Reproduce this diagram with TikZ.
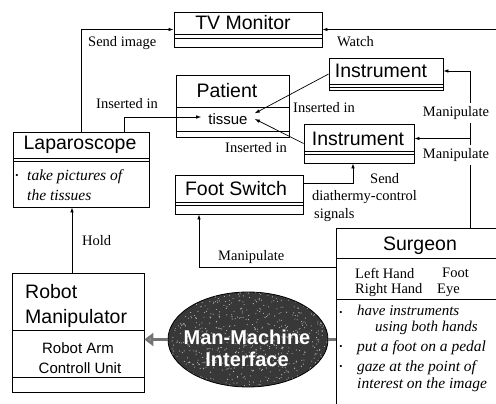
\documentclass[tikz,border=0pt]{standalone}
\usepackage{fontspec}
\setmainfont{Liberation Serif}
\newfontfamily\sansf{Liberation Sans}
\usetikzlibrary{shapes.geometric,arrows.meta,fit}
\begin{document}
\begin{tikzpicture}[x=1pt,y=-1pt,
  cls/.style={draw, line width=0.8pt, inner sep=0pt, fill=white},
  nm/.style={font=\sansf\fontsize{19.5}{20}\selectfont, inner sep=0pt},
  sm/.style={font=\sansf\fontsize{15}{16}\selectfont, inner sep=0pt},
  lbl/.style={font=\fontsize{14.5}{15}\selectfont, inner sep=0pt},
  itx/.style={font=\itshape\fontsize{15.5}{16}\selectfont, inner sep=0pt, anchor=west},
  conn/.style={line width=0.7pt, -{Latex[length=5pt,width=3.5pt]}},
  dv/.style={line width=0.6pt},
  fat/.style={line width=3pt, draw=black!55, -{Triangle[length=9pt,width=13pt,fill=black!45]}}]
\useasboundingbox (0,0) rectangle (496,404);

% ---- class boxes ----
\node[cls, fit={(174,12) (322,47)}] (tv) {};
\draw[dv] (174,34) -- (322,34); \draw[dv] (174,38.5) -- (322,38.5);
\node[nm] (tvt) at (243,23) {TV Monitor};

\node[cls, fit={(176,75) (289,137)}] (pat) {};
\draw[dv] (176,107) -- (289,107); \draw[dv] (176,131) -- (289,131);
\node[nm] (patt) at (227,91) {Patient};
\node[sm, inner xsep=7pt] (tissue) at (228,119) {tissue};

\node[cls, fit={(329,58) (443,90)}] (inst1) {};
\draw[dv] (329,84) -- (443,84); \draw[dv] (329,87) -- (443,87);
\node[nm] (inst1t) at (381,71) {Instrument};

\node[cls, fit={(304,124) (414,163)}] (inst2) {};
\draw[dv] (304,151) -- (414,151); \draw[dv] (304,154) -- (414,154);
\node[nm] (inst2t) at (358,139) {Instrument};

\node[cls, fit={(13,132) (149,207)}] (lap) {};
\draw[dv] (13,158) -- (149,158); \draw[dv] (13,161) -- (149,161);
\node[nm] (lapt) at (80,145) {Laparoscope};
\node[font=\fontsize{9}{9}\selectfont, inner sep=0pt] (lapb) at (17,176) {\textbullet};
\node[itx] (lap1) at (27,177) {take pictures of};
\node[itx] (lap2) at (27,195) {the tissues};

\node[cls, fit={(175,175) (303,214)}] (fs) {};
\draw[dv] (175,202) -- (303,202); \draw[dv] (175,205) -- (303,205);
\node[nm] (fst) at (236,189) {Foot Switch};

\node[cls, fit={(12,273) (144,392)}] (robot) {};
\draw[dv] (12,330) -- (144,330); \draw[dv] (12,377) -- (144,377);
\node[nm, anchor=west] (rob1) at (25,292) {Robot};
\node[nm, anchor=west] (rob2) at (25,318) {Manipulator};
\node[sm] (rob3) at (78,348) {Robot Arm};
\node[sm] (rob4) at (80,368) {Controll Unit};

\node[cls, fit={(336,228) (510,412)}] (surg) {};
\draw[dv] (336,258) -- (510,258); \draw[dv] (336,299) -- (510,299);
\node[nm] (surgt) at (420,246) {Surgeon};
\node[lbl, anchor=west] (lh) at (355,273) {Left Hand};
\node[lbl, anchor=west] (ft) at (442,273) {Foot};
\node[lbl, anchor=west] (rh) at (355,290) {Right Hand};
\node[lbl, anchor=west] (ey) at (437,290) {Eye};
\node[font=\fontsize{9}{9}\selectfont, inner sep=0pt] (sb1) at (341,313) {\textbullet};
\node[font=\fontsize{9}{9}\selectfont, inner sep=0pt] (sb2) at (341,347) {\textbullet};
\node[font=\fontsize{9}{9}\selectfont, inner sep=0pt] (sb3) at (341,367) {\textbullet};
\node[font=\itshape\fontsize{15}{15.5}\selectfont, inner sep=0pt, align=left, anchor=north west] (s1) at (357,305) {have instruments\\\hspace*{18pt}using both hands};
\node[itx] (s3) at (357,348) {put a foot on a pedal};
\node[font=\itshape\fontsize{15.5}{17}\selectfont, inner sep=0pt, align=left, anchor=north west] (s4) at (357,360) {gaze at the point of\\interest on the image};

% ---- Man-Machine Interface ----
\node[ellipse, draw, line width=0.8pt, fill=black!78, minimum width=160pt, minimum height=95pt, inner sep=0pt] (mmi) at (248,339.5) {};
\begin{scope}
  \clip (248,339.5) ellipse [x radius=79.5pt, y radius=47pt];
  \pgfmathsetseed{7}
  \foreach \i in {1,...,700} {
    \fill[black!25] ({248+80*rand},{339.5+48*rand}) circle [radius=0.55pt];
  }
\end{scope}
\node[font=\sansf\bfseries\fontsize{20}{22}\selectfont, text=white, align=center, inner sep=0pt] (mmit) at (247,348) {Man-Machine\\Interface};

% ---- connectors ----
\coordinate (wr) at (502,29.5);
\coordinate (mx) at (470,0);
\coordinate (hx) at (72,0);

\draw[conn] (lap.north) |- (tv.west);
\node[lbl, anchor=west] (l1) at (88,43) {Send image};

\draw[conn] (wr) -- (tv.east);
\node[lbl, anchor=west] (l2) at (337,42) {Watch};

\draw[conn] ([xshift=43pt]lap.north) |- ([yshift=2pt]tissue.west);
\node[lbl, anchor=west] (l3) at (96,104) {Inserted in};

\draw[conn] (inst1.west) -- (tissue.north east);
\node[lbl, anchor=west] (l4) at (293,108) {Inserted in};

\draw[conn] (inst2.west) -- (tissue.east);
\node[lbl, anchor=west] (l5) at (225,148) {Inserted in};

\draw[conn] (surg.north -| mx) |- ([yshift=3pt]inst1.east);
\draw[conn] (surg.north -| mx) |- ([yshift=5pt]inst2.east);
\node[lbl, fill=white, inner xsep=1pt, inner ysep=3pt] (l6) at (456,113) {Manipulate};
\node[lbl, fill=white, inner xsep=1pt, inner ysep=3pt] (l7) at (456,155) {Manipulate};

\draw[conn] ([yshift=11pt]fs.east) -| ([xshift=-6pt]inst2.south);
\node[lbl, anchor=west] (l8) at (370,179) {Send};
\node[lbl, anchor=west] (l9) at (312,197) {diathermy-control};
\node[lbl, anchor=west] (l10) at (314,215) {signals};

\draw[conn] ([yshift=-40pt]surg.north west) -| ([xshift=-40pt]fs.south);
\node[lbl, anchor=west] (l11) at (218,257) {Manipulate};

\draw[conn] (robot.north -| hx) -- (lap.south -| hx);
\node[lbl, anchor=west] (l12) at (82,241) {Hold};

\draw[fat] (mmi.west) -- (robot.east |- mmi.west);
\draw[line width=3pt, draw=black!55] (surg.west |- mmi.east) -- (mmi.east);
\end{tikzpicture}
\end{document}
